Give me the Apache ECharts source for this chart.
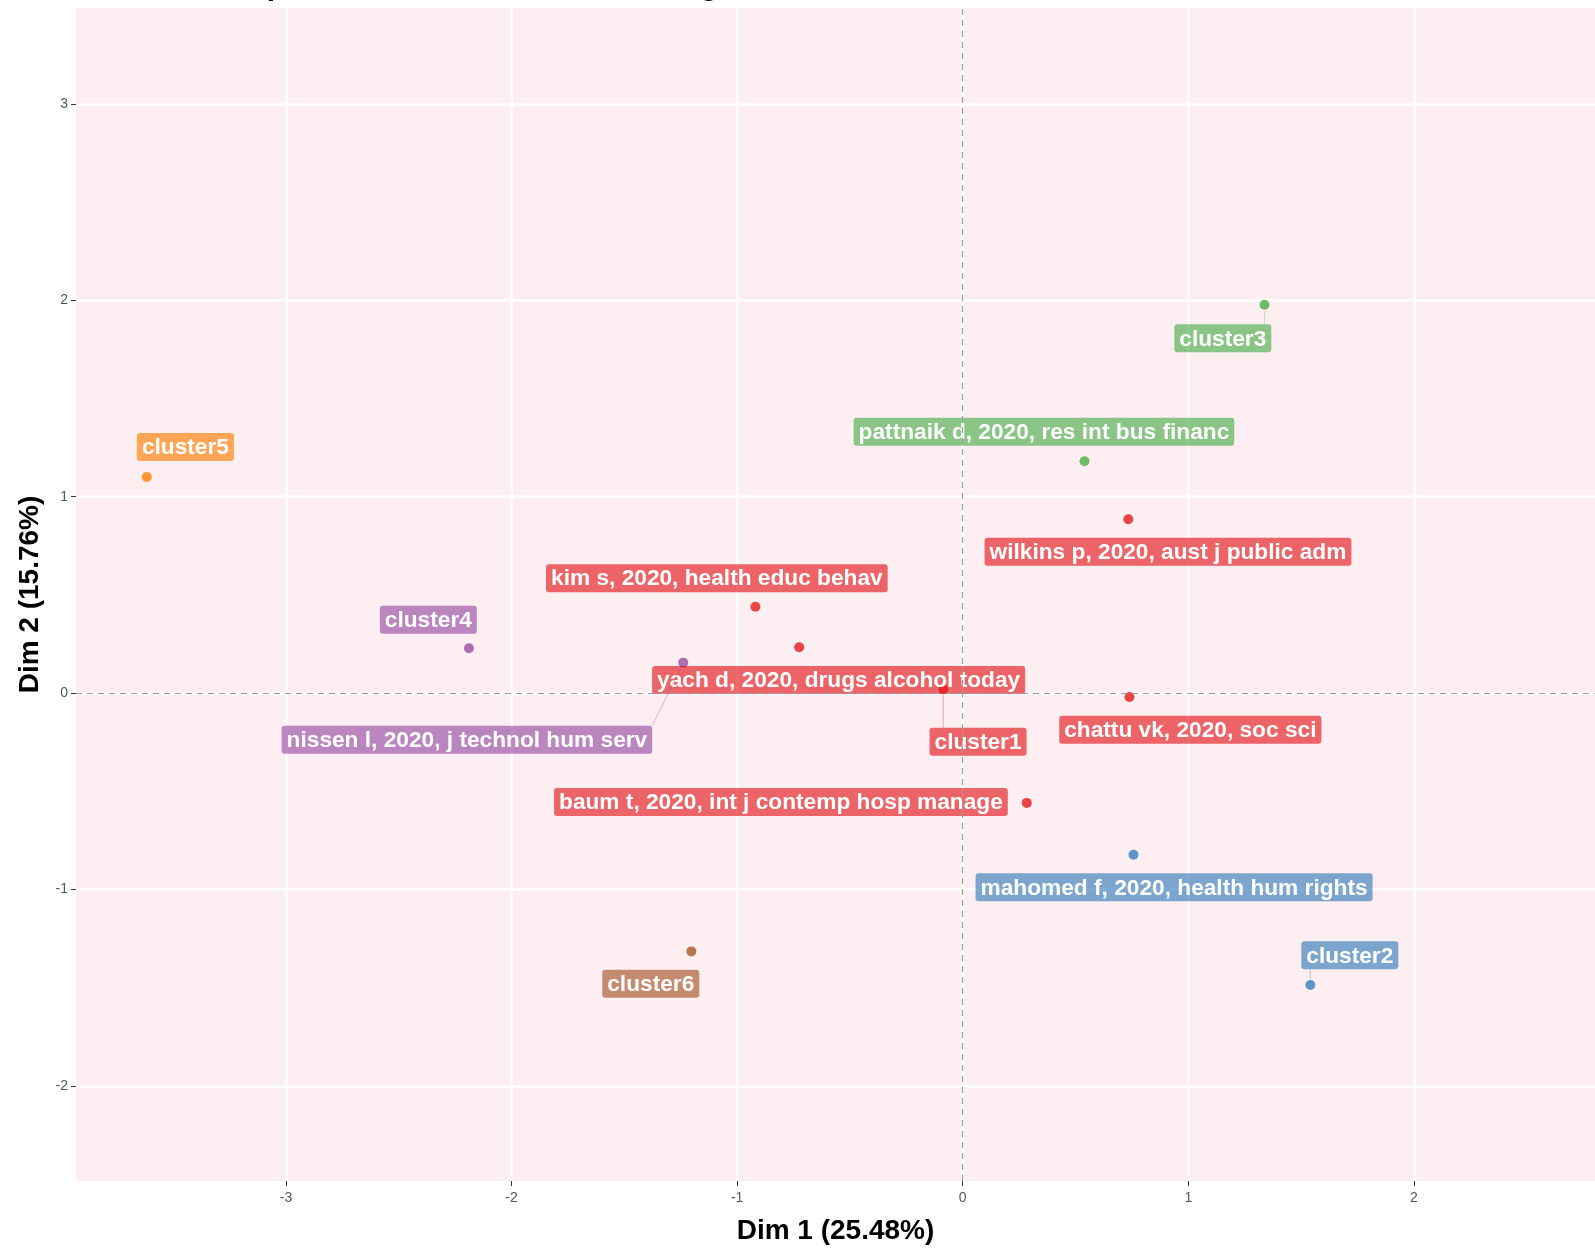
<!DOCTYPE html>
<html><head><meta charset="utf-8">
<script src="https://cdn.jsdelivr.net/npm/echarts@6/dist/echarts.min.js"></script>
<style>html,body{margin:0;padding:0;background:#fff}#c{width:1595px;height:1254px}</style>
</head><body><div id="c"></div>
<script>
// ---- data ----
const docLabels = ['cluster1','cluster2','cluster3','cluster4','cluster5','cluster6',
  'kim s, 2020, health educ behav','yach d, 2020, drugs alcohol today','wilkins p, 2020, aust j public adm',
  'chattu vk, 2020, soc sci','baum t, 2020, int j contemp hosp manage','pattnaik d, 2020, res int bus financ',
  'mahomed f, 2020, health hum rights','nissen l, 2020, j technol hum serv'];
const dim1 = [-0.086, 1.541, 1.338, -2.189, -3.617, -1.203, -0.919, -0.725, 0.734, 0.739, 0.284, 0.540, 0.757, -1.239];
const dim2 = [0.020, -1.486, 1.977, 0.228, 1.100, -1.315, 0.440, 0.233, 0.885, -0.020, -0.559, 1.180, -0.823, 0.155];
const cluster = [1,2,3,4,5,6,1,1,1,1,1,3,2,4];
// repelled label anchors (data units)
const labelDim1 = [0.068, 1.716, 1.153, -2.369, -3.446, -1.383, -1.090, -0.550, 0.910, 1.009, -0.806, 0.360, 0.937, -2.198];
const labelDim2 = [-0.248, -1.335, 1.806, 0.373, 1.253, -1.480, 0.585, 0.067, 0.720, -0.186, -0.554, 1.330, -0.989, -0.238];
const showSegment = [true,true,true,false,false,false,false,false,false,false,false,false,false,true];
const xTicks = [-3,-2,-1,0,1,2];
const yTicks = [-2,-1,0,1,2,3];
const xName = 'Dim 1 (25.48%)';
const yName = 'Dim 2 (15.76%)';
const titleText = 'Factorial map of the documents with the highest contributes';

// ---- styles ----
const set1 = {1:'#E41A1C',2:'#377EB8',3:'#4DAF4A',4:'#984EA3',5:'#FF7F00',6:'#A65628'};
function rgba(hex,a){const n=parseInt(hex.slice(1),16);return `rgba(${n>>16},${(n>>8)&255},${n&255},${a})`;}
const labelFont = 'bold 22.7px "Liberation Sans", Arial, sans-serif';
const cv = document.createElement('canvas').getContext('2d');
cv.font = labelFont;

const chart = echarts.init(document.getElementById('c'), null, {renderer:'canvas'});
const pts = dim1.map((x,i)=>({value:[x, dim2[i]], itemStyle:{color:set1[cluster[i]]}}));
const labs = dim1.map((x,i)=>[x, dim2[i], labelDim1[i], labelDim2[i], i]);

const axisCommon = {
  axisLine:{show:false, onZero:false},
  axisTick:{show:true, length:5, lineStyle:{color:'#333', width:1}},
  splitLine:{show:true, lineStyle:{color:'#ffffff', width:2.5}},
  axisLabel:{color:'#555', fontSize:14, fontFamily:'"Liberation Sans", Arial, sans-serif'},
  nameLocation:'middle',
  nameTextStyle:{color:'#000', fontSize:28, fontWeight:'bold', fontFamily:'"Liberation Sans", Arial, sans-serif'}
};

chart.setOption({
  animation:false,
  backgroundColor:'#ffffff',
  graphic:[{type:'text', left:90, top:-28, silent:true,
    style:{text:titleText, font:'bold 30px "Liberation Sans", Arial, sans-serif', fill:'#000'}}],
  grid:{left:76, right:0, top:8, bottom:73, show:true, backgroundColor:'#FDEEF2', borderWidth:0},
  xAxis:Object.assign({}, axisCommon, {
    type:'value', min:-3.931, max:2.803, name:xName, nameGap:36,
    axisTick:Object.assign({}, axisCommon.axisTick, {customValues:xTicks}),
    axisLabel:Object.assign({}, axisCommon.axisLabel, {customValues:xTicks, margin:10})
  }),
  yAxis:Object.assign({}, axisCommon, {
    type:'value', min:-2.484, max:3.488, name:yName, nameGap:31, nameRotate:90,
    axisTick:Object.assign({}, axisCommon.axisTick, {customValues:yTicks}),
    axisLabel:Object.assign({}, axisCommon.axisLabel, {customValues:yTicks, margin:8})
  }),
  series:[
    {type:'scatter', data:pts, symbolSize:10, z:2, silent:true,
     markLine:{silent:true, symbol:'none', label:{show:false},
       lineStyle:{type:[6,5], color:'#9a9a9a', width:1.2},
       data:[{xAxis:0},{yAxis:0}]}},
    {type:'custom', data:labs, z:3, silent:true, clip:false,
     encode:{x:[0,2], y:[1,3]},
     renderItem:function(params, api){
       const i = api.value(4);
       const p = api.coord([api.value(0), api.value(1)]);
       const l = api.coord([api.value(2), api.value(3)]);
       const text = docLabels[i];
       const w = cv.measureText(text).width + 10;
       const h = 28;
       const x0 = l[0]-w/2, x1 = l[0]+w/2, y0 = l[1]-h/2, y1 = l[1]+h/2;
       const cx = Math.min(Math.max(p[0], x0), x1);
       const cy = Math.min(Math.max(p[1], y0), y1);
       const children = [];
       if (showSegment[i]) {
         const dx = p[0]-cx, dy = p[1]-cy, d = Math.sqrt(dx*dx+dy*dy) || 1;
         const pad = 6;
         children.push({type:'line', shape:{x1:cx, y1:cy, x2:p[0]-dx/d*pad, y2:p[1]-dy/d*pad},
           style:{stroke:rgba(set1[cluster[i]],0.3), lineWidth:1.2}});
       }
       children.push({type:'rect', shape:{x:x0, y:y0, width:w, height:h, r:3},
         style:{fill:rgba(set1[cluster[i]],0.65)}});
       children.push({type:'text', x:l[0], y:l[1]+1,
         style:{text:text, font:labelFont, fill:'#ffffff', align:'center', verticalAlign:'middle'}});
       return {type:'group', children:children};
     }}
  ]
});
</script></body></html>
